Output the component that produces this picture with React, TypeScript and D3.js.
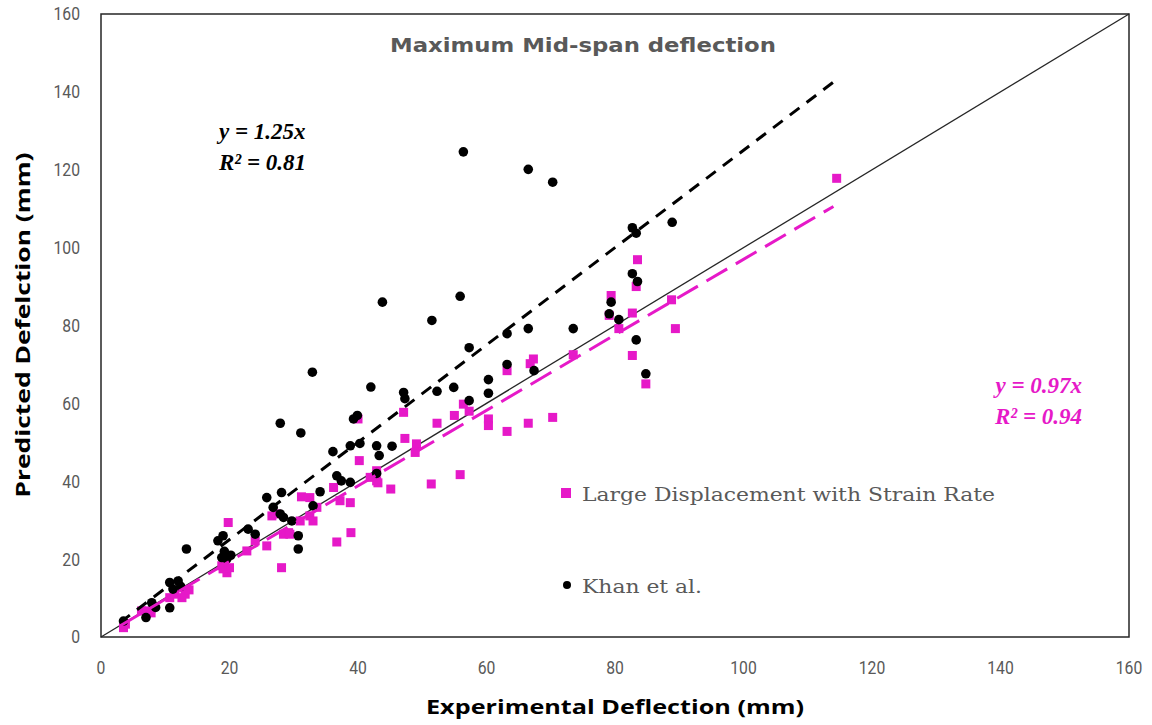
import React from "react";
import * as d3 from "d3";

// ---- data ----
const khanX = [3.5,7.0,7.9,8.5,10.7,10.7,11.2,12.0,12.4,13.3,18.2,19.0,18.8,19.6,20.2,19.2,22.9,24.0,25.8,26.8,27.9,28.4,29.7,28.1,27.9,30.7,30.7,31.1,32.9,33.0,34.1,36.1,36.7,37.4,38.8,38.8,40.3,39.3,39.9,42.0,42.9,43.3,45.3,42.9,43.8,47.1,47.3,51.5,52.3,54.9,55.9,56.4,57.3,57.3,60.3,60.3,63.2,63.2,66.5,66.5,67.4,70.3,73.5,79.4,79.1,80.6,82.7,83.3,82.7,83.5,83.3,84.8,88.9];
const khanY = [4.1,5.0,8.8,7.6,7.5,14.0,12.3,14.4,13.0,22.6,24.7,26.0,20.4,20.1,21.0,22.0,27.7,26.4,35.8,33.3,31.6,30.7,29.8,37.1,54.9,26.0,22.6,52.4,68.0,33.7,37.3,47.6,41.4,40.1,39.7,49.1,49.7,56.0,56.9,64.2,49.1,46.6,49.0,42.0,86.0,62.8,61.2,81.3,63.1,64.1,87.5,124.6,74.3,60.7,66.1,62.6,77.9,70.0,120.1,79.2,68.4,116.8,79.2,86.0,83.0,81.5,105.1,103.7,93.3,91.3,76.3,67.6,106.5];

const ldX = [3.5,3.8,6.3,7.1,7.8,10.7,11.5,12.6,13.1,13.7,19.8,19.6,19.0,20.0,18.8,22.7,24.0,25.8,28.1,26.6,27.3,28.4,29.2,29.4,31.0,31.2,32.5,33.6,32.5,33.0,36.7,38.9,36.2,37.2,38.8,40.2,40.0,41.9,42.9,43.1,42.9,45.1,47.3,47.1,49.1,48.9,51.4,52.3,55.0,55.9,56.4,57.3,60.3,60.3,63.2,63.2,66.5,66.8,67.3,70.3,73.5,79.1,79.4,80.6,82.7,82.7,83.3,83.5,84.8,88.8,89.4,114.5];
const ldY = [2.4,3.3,6.7,6.7,6.2,10.1,11.0,10.1,11.0,12.1,29.4,16.5,17.5,17.8,18.3,22.1,24.7,23.4,17.8,31.1,31.6,26.4,26.8,26.4,29.8,36.0,35.8,33.3,31.1,29.8,24.4,26.8,38.4,35.0,34.5,45.3,56.0,41.0,40.1,39.6,42.7,38.0,51.0,57.7,49.6,47.4,39.3,54.9,56.9,41.7,59.8,58.0,56.0,54.3,52.8,68.4,54.9,70.2,71.4,56.4,72.5,82.6,87.7,79.2,83.2,72.3,90.0,96.9,65.0,86.6,79.2,117.8];

const ticks = [0, 20, 40, 60, 80, 100, 120, 140, 160];
const khanSlope = 1.25;
const ldSlope = 0.97;
const trendRange = [3, 114];

const W = 1152, H = 725;
const L = 101, R = 1129, T = 14, B = 637;
const MAGENTA = "#e619c8";
const GRAY = "#595959";
const TICKFONT = "Roboto, 'Liberation Sans', sans-serif";

export default function App() {
  const x = d3.scaleLinear().domain([0, 160]).range([L, R]);
  const y = d3.scaleLinear().domain([0, 160]).range([B, T]);
  const line = d3.line<[number, number]>().x(d => x(d[0])).y(d => y(d[1]));
  const khan = khanX.map((v, i) => [v, khanY[i]] as [number, number]);
  const ld = ldX.map((v, i) => [v, ldY[i]] as [number, number]);
  const sq = 9;
  return (
    <svg width={W} height={H} style={{ position: "absolute", left: 0, top: 0, background: "#fff" }}>
      <rect x={0} y={0} width={W} height={H} fill="#fff" />
      {/* plot frame */}
      <rect x={L} y={T} width={R - L} height={B - T} fill="none" stroke="#262626" strokeWidth={1.5} />
      {/* 1:1 line */}
      <path d={line([[0, 0], [160, 160]]) || ""} stroke="#262626" strokeWidth={1.3} fill="none" />
      {/* points */}
      {ld.map((d, i) => (
        <rect key={"l" + i} x={x(d[0]) - sq / 2} y={y(d[1]) - sq / 2} width={sq} height={sq} fill={MAGENTA} />
      ))}
      {khan.map((d, i) => (
        <circle key={"k" + i} cx={x(d[0])} cy={y(d[1])} r={4.8} fill="#000" />
      ))}
      {/* trendlines */}
      <path d={line(trendRange.map(v => [v, v * khanSlope] as [number, number])) || ""} stroke="#000" strokeWidth={3} strokeDasharray="12 9" fill="none" />
      <path d={line(trendRange.map(v => [v, v * ldSlope] as [number, number])) || ""} stroke={MAGENTA} strokeWidth={3} strokeDasharray="24 10" fill="none" />
      {/* ticks */}
      {ticks.map(t => (
        <text key={"x" + t} x={x(t)} y={674} textAnchor="middle" fontFamily={TICKFONT} fontSize={18.5} fill={GRAY} transform={`translate(${x(t)},0) scale(0.85,1) translate(${-x(t)},0)`}>{t}</text>
      ))}
      {ticks.map(t => (
        <text key={"y" + t} x={80} y={y(t) + 6.5} textAnchor="end" fontFamily={TICKFONT} fontSize={18.5} fill={GRAY} transform={`translate(80,0) scale(0.85,1) translate(-80,0)`}>{t}</text>
      ))}
      {/* titles */}
      <text x={583} y={52} textAnchor="middle" fontFamily="'DejaVu Sans', Verdana, sans-serif" fontWeight="bold" fontSize={20} fill={GRAY} textLength={386} lengthAdjust="spacingAndGlyphs">Maximum Mid-span deflection</text>
      <text x={615} y={714} textAnchor="middle" fontFamily="'Open Sans', sans-serif" fontWeight="bold" fontSize={20} fill="#000" textLength={378} lengthAdjust="spacingAndGlyphs">Experimental Deflection (mm)</text>
      <text transform="translate(30,325) rotate(-90)" textAnchor="middle" fontFamily="'Open Sans', sans-serif" fontWeight="bold" fontSize={20} fill="#000" textLength={345} lengthAdjust="spacingAndGlyphs">Predicted Defelction (mm)</text>
      {/* equations */}
      <g fontFamily="'Liberation Serif', serif" fontWeight="bold" fontStyle="italic" fontSize={23}>
        <text x={219} y={139} fill="#000">y = 1.25x</text>
        <text x={219} y={170} fill="#000">R² = 0.81</text>
        <text x={1082} y={393} textAnchor="end" fill={MAGENTA}>y = 0.97x</text>
        <text x={1082} y={424} textAnchor="end" fill={MAGENTA}>R² = 0.94</text>
      </g>
      {/* legend */}
      <rect x={561} y={488} width={10} height={10} fill={MAGENTA} />
      <text x={582} y={501} fontFamily="'DejaVu Serif', serif" fontSize={19} fill={GRAY} textLength={413} lengthAdjust="spacingAndGlyphs">Large Displacement with Strain Rate</text>
      <circle cx={567} cy={585} r={4} fill="#000" />
      <text x={582} y={593} fontFamily="'DejaVu Serif', serif" fontSize={19} fill={GRAY} textLength={120} lengthAdjust="spacingAndGlyphs">Khan et al.</text>
    </svg>
  );
}
